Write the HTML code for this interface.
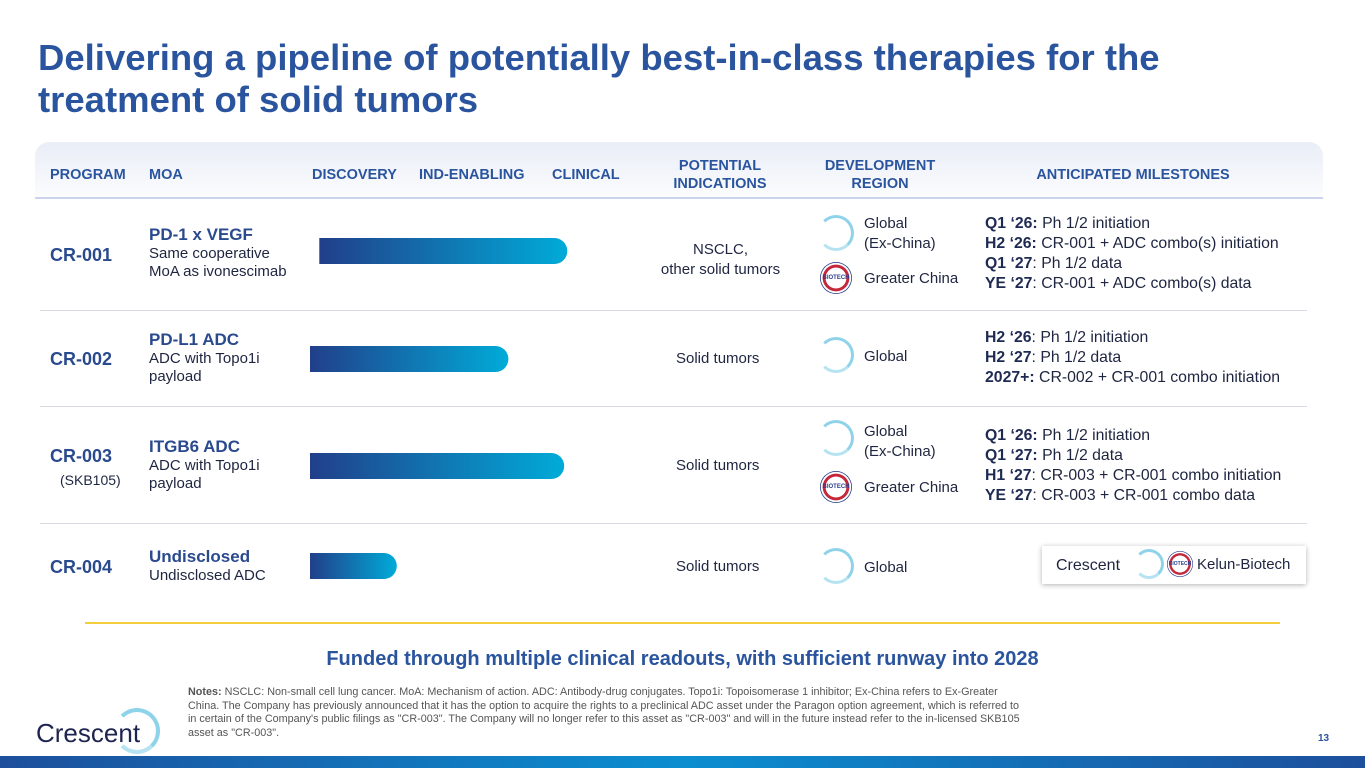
<!DOCTYPE html>
<html><head><meta charset="utf-8">
<style>
body{margin:0;width:1365px;height:768px;position:relative;overflow:hidden;background:#fff;font-family:"Liberation Sans",Arial,sans-serif;color:#1e2540}
.a{position:absolute}
h1{position:absolute;left:38px;top:37px;margin:0;font-size:36.5px;line-height:42px;color:#2a559e;font-weight:bold;width:1200px}
.hd{position:absolute;font-size:14.5px;font-weight:bold;color:#2a559e;text-align:center;line-height:18px}
.prog{position:absolute;left:50px;font-size:18px;font-weight:bold;color:#2a4a8e}
.moa{position:absolute;left:149px;font-size:15px;line-height:18px}
.moa b{font-size:17px;color:#2a4a8e}
.t{position:absolute;font-size:15px;line-height:20px}
.ms{position:absolute;left:985px;font-size:15.8px;line-height:20px;white-space:nowrap}
.ms b{color:#1e2a52}
.sep{position:absolute;left:40px;width:1267px;height:1px;background:#d8dbe2}
.ring{position:absolute;width:30px;height:30px;border-radius:50%;border:3px solid #8fd3ea;border-left-color:transparent;border-bottom-color:#b5e3f1}
.kel{position:absolute;width:32px;height:32px;border-radius:50%;background:radial-gradient(circle,#fff 45%,#c4283a 47%,#c4283a 58%,#fff 60%,#fff 66%,#2c3e8c 68%);font-size:6px;font-weight:bold;color:#2c3e8c;text-align:center;line-height:32px}
</style></head><body>
<h1>Delivering a pipeline of potentially best-in-class therapies for the treatment of solid tumors</h1>
<div class="a" style="left:35px;top:142px;width:1288px;height:55px;border-radius:14px 14px 0 0;background:linear-gradient(#e9edf6,#fbfcfe);border-bottom:2px solid #c9d4ec"></div>
<div class="hd" style="left:50px;top:166px">PROGRAM</div>
<div class="hd" style="left:149px;top:166px">MOA</div>
<div class="hd" style="left:312px;top:166px">DISCOVERY</div>
<div class="hd" style="left:419px;top:166px">IND-ENABLING</div>
<div class="hd" style="left:552px;top:166px">CLINICAL</div>
<div class="hd" style="left:650px;top:157px;width:140px">POTENTIAL<br>INDICATIONS</div>
<div class="hd" style="left:810px;top:157px;width:140px">DEVELOPMENT<br>REGION</div>
<div class="hd" style="left:1000px;top:166px;width:266px">ANTICIPATED MILESTONES</div>

<div class="sep" style="top:310px"></div>
<div class="sep" style="top:406px"></div>
<div class="sep" style="top:523px"></div>

<div class="prog" style="top:245px">CR-001</div>
<div class="prog" style="top:349px">CR-002</div>
<div class="prog" style="top:446px">CR-003</div>
<div class="t" style="left:60px;top:470px;font-size:14px">(SKB105)</div>
<div class="prog" style="top:557px">CR-004</div>

<div class="moa" style="top:226px"><b>PD-1 x VEGF</b><br>Same cooperative<br>MoA as ivonescimab</div>
<div class="moa" style="top:331px"><b>PD-L1 ADC</b><br>ADC with Topo1i<br>payload</div>
<div class="moa" style="top:438px"><b>ITGB6 ADC</b><br>ADC with Topo1i<br>payload</div>
<div class="moa" style="top:548px"><b>Undisclosed</b><br>Undisclosed ADC</div>

<svg class="a" style="left:0;top:0" width="1365" height="768" id="chart">
<defs><linearGradient id="g" x1="0" x2="1"><stop offset="0" stop-color="#213f8a"/><stop offset="1" stop-color="#00abd8"/></linearGradient></defs>
</svg>

<div class="t" style="left:638px;top:240px;width:165px;text-align:center">NSCLC,<br>other solid tumors</div>
<div class="t" style="left:676px;top:349px">Solid tumors</div>
<div class="t" style="left:676px;top:456px">Solid tumors</div>
<div class="t" style="left:676px;top:557px">Solid tumors</div>

<div class="ring" style="left:818px;top:215px"></div>
<div class="t" style="left:864px;top:214px">Global<br>(Ex-China)</div>
<div class="kel" style="left:820px;top:262px">BIOTECH</div>
<div class="t" style="left:864px;top:269px">Greater China</div>
<div class="ring" style="left:818px;top:337px"></div>
<div class="t" style="left:864px;top:347px">Global</div>
<div class="ring" style="left:818px;top:420px"></div>
<div class="t" style="left:864px;top:422px">Global<br>(Ex-China)</div>
<div class="kel" style="left:820px;top:471px">BIOTECH</div>
<div class="t" style="left:864px;top:478px">Greater China</div>
<div class="ring" style="left:818px;top:548px"></div>
<div class="t" style="left:864px;top:558px">Global</div>

<div class="ms" style="top:214px"><b>Q1 ‘26:</b> Ph 1/2 initiation<br><b>H2 ‘26:</b> CR-001 + ADC combo(s) initiation<br><b>Q1 ‘27</b>: Ph 1/2 data<br><b>YE ‘27</b>: CR-001 + ADC combo(s) data</div>
<div class="ms" style="top:328px"><b>H2 ‘26</b>: Ph 1/2 initiation<br><b>H2 ‘27</b>: Ph 1/2 data<br><b>2027+:</b> CR-002 + CR-001 combo initiation</div>
<div class="ms" style="top:426px"><b>Q1 ‘26:</b> Ph 1/2 initiation<br><b>Q1 ‘27:</b> Ph 1/2 data<br><b>H1 ‘27</b>: CR-003 + CR-001 combo initiation<br><b>YE ‘27</b>: CR-003 + CR-001 combo data</div>

<div class="a" style="left:1042px;top:546px;width:264px;height:38px;background:#fff;box-shadow:0 1px 5px rgba(0,0,0,.3)">
<div class="t" style="left:14px;top:10px;font-size:16px;color:#1e2540">Crescent</div>
<div class="ring" style="left:92px;top:3px;width:24px;height:24px"></div>
<div class="kel" style="left:125px;top:5px;width:26px;height:26px;line-height:26px;font-size:5px">BIOTECH</div>
<div class="t" style="left:155px;top:9px;font-size:15px">Kelun-Biotech</div>
</div>

<div class="a" style="left:85px;top:622px;width:1195px;height:2px;background:#f2cd3c"></div>
<div class="a" style="left:0;width:1365px;top:648px;text-align:center;font-size:20px;font-weight:bold;color:#2a559e">Funded through multiple clinical readouts, with sufficient runway into 2028</div>

<div class="a" style="left:36px;top:718px;font-size:26px;color:#1e2450">Crescent</div>
<div class="ring" style="left:114px;top:708px;width:38px;height:38px;border-width:4px"></div>
<div class="a" style="left:188px;top:686px;width:840px;font-size:10.8px;line-height:13.5px;color:#555">
<b>Notes:</b> NSCLC: Non-small cell lung cancer. MoA: Mechanism of action. ADC: Antibody-drug conjugates. Topo1i: Topoisomerase 1 inhibitor; Ex-China refers to Ex-Greater China. The Company has previously announced that it has the option to acquire the rights to a preclinical ADC asset under the Paragon option agreement, which is referred to in certain of the Company's public filings as "CR-003". The Company will no longer refer to this asset as "CR-003" and will in the future instead refer to the in-licensed SKB105 asset as "CR-003".</div>
<div class="a" style="left:1318px;top:733px;font-size:10px;font-weight:bold;color:#2a559e">13</div>
<div class="a" style="left:0;top:756px;width:1365px;height:12px;background:linear-gradient(90deg,#1d4f9c,#0b8ed0 50%,#1d4f9c)"></div>

<script>
const programs=["CR-001","CR-002","CR-003","CR-004"];
const startValues=[3,0,0,0];
const progressValues=[83,64,82,28];
const rowCenters=[251,359,466,566];
const x0=310, xFull=620;
function x(v){return x0+(xFull-x0)*v/100;}
const svg=document.getElementById('chart');
const NS="http://www.w3.org/2000/svg";
programs.forEach((p,i)=>{
  const a=x(startValues[i]), b=x(progressValues[i]), h=26, y=rowCenters[i]-h/2;
  const path=document.createElementNS(NS,'path');
  path.setAttribute('d',`M${a},${y}H${b-h/2}A${h/2},${h/2} 0 0 1 ${b-h/2},${y+h}H${a}Z`);
  path.setAttribute('fill','url(#g)');
  
  
  svg.appendChild(path);
});
</script>
</body></html>
